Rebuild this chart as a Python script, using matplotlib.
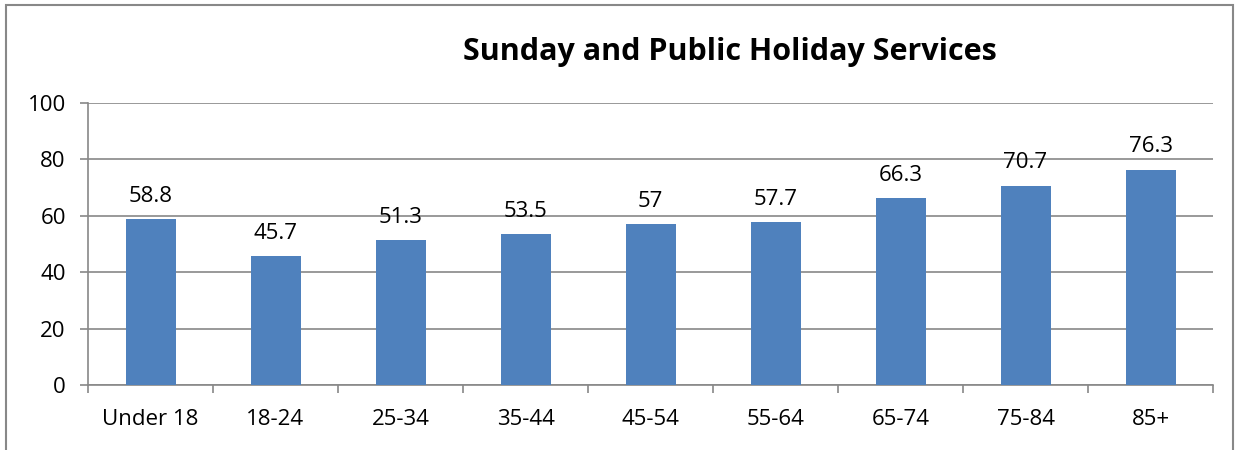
import matplotlib
matplotlib.use("Agg")
import matplotlib.pyplot as plt
from matplotlib.patches import Rectangle
import numpy as np

categories = ["Under 18", "18-24", "25-34", "35-44", "45-54", "55-64", "65-74", "75-84", "85+"]
values = [58.8, 45.7, 51.3, 53.5, 57, 57.7, 66.3, 70.7, 76.3]
value_labels = ["58.8", "45.7", "51.3", "53.5", "57", "57.7", "66.3", "70.7", "76.3"]
title = "Sunday and Public Holiday Services"

plt.rcParams['font.family'] = ['Open Sans', 'DejaVu Sans']
gray = '#888888'

fig = plt.figure(figsize=(12.43, 4.5), dpi=100)
fig.patches.append(Rectangle((6/1243, -0.1), (1233-6)/1243, 1.1 - 5/450, transform=fig.transFigure,
                             fill=False, edgecolor=gray, linewidth=1.5))
ax = fig.add_axes([88/1243, 1-385/450, (1213-88)/1243, (385-103)/450])
x = np.arange(len(categories))
ax.bar(x, values, width=0.4, color='#4F81BD', zorder=3)
for xi, v, lab in zip(x, values, value_labels):
    ax.annotate(lab, (xi, v), xytext=(0, 9), textcoords='offset points', ha='center', va='bottom',
                fontsize=16, color='#000000')
ax.set_xlim(-0.5, len(categories) - 0.5)
ax.set_ylim(0, 100)
ax.set_yticks(np.arange(0, 101, 20))
ax.set_xticks(x)
ax.set_xticklabels(categories)
ax.set_xticks(np.arange(-0.5, len(categories), 1), minor=True)
ax.tick_params(axis='x', which='major', length=0, pad=17, labelsize=16)
ax.tick_params(axis='x', which='minor', length=6, color=gray, width=1.2, direction='out')
ax.tick_params(axis='y', length=6, color=gray, width=1.2, labelsize=16, pad=10)
ax.yaxis.grid(True, color=gray, linewidth=1.2, zorder=0)
for s in ['top', 'right']:
    ax.spines[s].set_visible(False)
for s in ['left', 'bottom']:
    ax.spines[s].set_color(gray)
    ax.spines[s].set_linewidth(1.2)
fig.text(730/1243, 1-52/450, title, ha='center', va='center', fontsize=22, fontweight='bold')
fig.savefig('out.png', dpi=100)
